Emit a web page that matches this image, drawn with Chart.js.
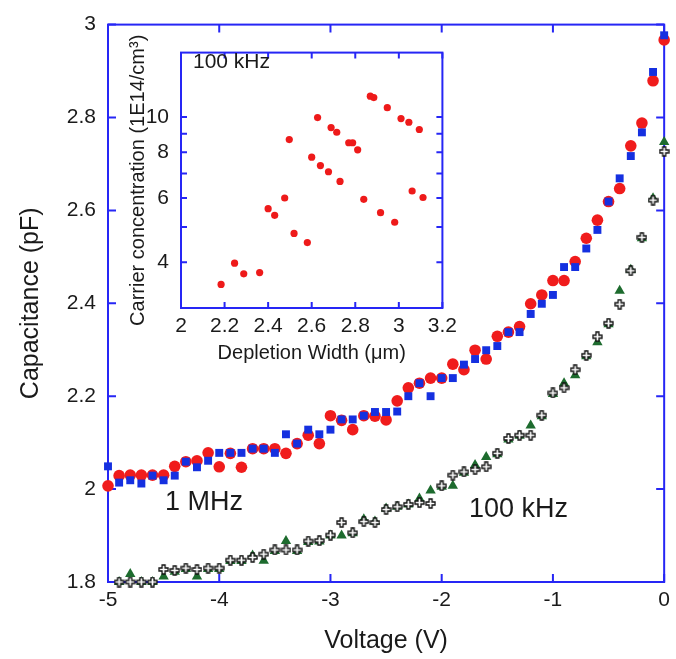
<!DOCTYPE html>
<html lang="en">
<head>
  <meta charset="UTF-8">
  <title>Capacitance vs Voltage</title>
  <script src="https://cdn.jsdelivr.net/npm/chart.js"></script>
  <style>
    body { margin: 0; background: #fff; }
    .wrap { position: relative; width: 676px; height: 659px; }
    #main { position: absolute; left: 0; top: 0; }
    #inset { position: absolute; left: 118px; top: 28px; }
  </style>
</head>
<body>
  <div class="wrap">
    <canvas id="main" width="676" height="659"></canvas>
    <canvas id="inset" width="345" height="340"></canvas>
  </div>

  <script>
    // bias voltage (V)
    const voltage = [-5.0, -4.9, -4.8, -4.7, -4.6, -4.5, -4.4, -4.3, -4.2, -4.1,
      -4.0, -3.9, -3.8, -3.7, -3.6, -3.5, -3.4, -3.3, -3.2, -3.1,
      -3.0, -2.9, -2.8, -2.7, -2.6, -2.5, -2.4, -2.3, -2.2, -2.1,
      -2.0, -1.9, -1.8, -1.7, -1.6, -1.5, -1.4, -1.3, -1.2, -1.1,
      -1.0, -0.9, -0.8, -0.7, -0.6, -0.5, -0.4, -0.3, -0.2, -0.1, 0];

    // 1 MHz, two runs (pF)
    const red1MHz = [2.007, 2.029, 2.030, 2.030, 2.030, 2.030, 2.049, 2.059, 2.061, 2.078,
      2.048, 2.077, 2.047, 2.087, 2.087, 2.087, 2.077, 2.098, 2.116, 2.098,
      2.158, 2.148, 2.128, 2.158, 2.157, 2.149, 2.190, 2.218, 2.228, 2.239,
      2.239, 2.269, 2.257, 2.299, 2.280, 2.329, 2.338, 2.350, 2.399, 2.418,
      2.449, 2.449, 2.490, 2.540, 2.579, 2.619, 2.647, 2.739, 2.788, 2.879, 2.967];
    const blue1MHz = [2.049, 2.014, 2.019, 2.012, 2.029, 2.019, 2.029, 2.059, 2.047, 2.061,
      2.078, 2.078, 2.078, 2.087, 2.087, 2.078, 2.118, 2.098, 2.128, 2.118,
      2.128, 2.150, 2.150, 2.158, 2.166, 2.166, 2.167, 2.200, 2.228, 2.200,
      2.239, 2.239, 2.268, 2.280, 2.299, 2.308, 2.338, 2.338, 2.377, 2.399,
      2.418, 2.478, 2.478, 2.518, 2.558, 2.619, 2.669, 2.717, 2.768, 2.898, 2.977];

    // 100 kHz, two runs (pF), from -4.9 V
    const voltage100k = voltage.slice(1);
    const cross100k = [1.800, 1.800, 1.800, 1.800, 1.827, 1.825, 1.830, 1.827, 1.830, 1.830,
      1.847, 1.847, 1.853, 1.860, 1.869, 1.869, 1.869, 1.888, 1.889, 1.901,
      1.928, 1.906, 1.930, 1.928, 1.956, 1.962, 1.967, 1.971, 1.969, 2.007,
      2.030, 2.037, 2.042, 2.048, 2.077, 2.109, 2.116, 2.116, 2.159, 2.207,
      2.218, 2.257, 2.288, 2.328, 2.357, 2.398, 2.470, 2.542, 2.622, 2.727];
    const tri100k = [1.800, 1.817, 1.800, 1.800, 1.812, 1.822, 1.828, 1.812, 1.828, 1.828,
      1.845, 1.845, 1.857, 1.846, 1.867, 1.888, 1.867, 1.886, 1.887, 1.900,
      1.900, 1.905, 1.935, 1.930, 1.958, 1.962, 1.967, 1.980, 1.997, 2.005,
      2.007, 2.035, 2.052, 2.069, 2.075, 2.107, 2.115, 2.137, 2.157, 2.205,
      2.228, 2.245, 2.286, 2.316, 2.355, 2.427, 2.472, 2.540, 2.626, 2.747];

    const xTicks = [-5, -4, -3, -2, -1, 0];
    const yTicks = [1.8, 2, 2.2, 2.4, 2.6, 2.8, 3];

    // inset: carrier profile at 100 kHz
    const depletionWidth = [2.184, 2.246, 2.288, 2.361, 2.400, 2.430, 2.476, 2.497, 2.519, 2.580,
      2.600, 2.627, 2.640, 2.677, 2.689, 2.715, 2.730, 2.770, 2.788, 2.811,
      2.839, 2.869, 2.885, 2.916, 2.947, 2.981, 3.010, 3.046, 3.061, 3.094, 3.111];
    const carrierConc = [3.48, 3.98, 3.72, 3.75, 5.61, 5.38, 6.00, 8.67, 4.80, 4.53,
      7.76, 9.96, 7.36, 7.08, 9.35, 9.08, 6.66, 8.50, 8.50, 8.13,
      5.95, 11.4, 11.3, 5.47, 10.6, 5.15, 9.90, 9.67, 6.27, 9.24, 6.02];
    const insetXTicks = [2, 2.2, 2.4, 2.6, 2.8, 3, 3.2];
    const insetYTicks = [3, 4, 5, 6, 7, 8, 9, 10];
    const insetYLabels = [4, 6, 8, 10];

    const FONT = "'Liberation Sans', Arial, sans-serif";
    const AXIS = '#2626f5';
    const TEXT = '#1a1a1a';

    const pairs = (xs, ys) => xs.map((x, i) => ({ x: x, y: ys[i] }));

    // open plus marker for the second 100 kHz run
    const plusMarker = (() => {
      const c = document.createElement('canvas');
      c.width = 11; c.height = 11;
      const g = c.getContext('2d');
      const a = 1.5, b = 4.5;
      g.translate(5.5, 5.5);
      g.beginPath();
      g.moveTo(-a, -b); g.lineTo(a, -b); g.lineTo(a, -a); g.lineTo(b, -a);
      g.lineTo(b, a); g.lineTo(a, a); g.lineTo(a, b); g.lineTo(-a, b);
      g.lineTo(-a, a); g.lineTo(-b, a); g.lineTo(-b, -a); g.lineTo(-a, -a);
      g.closePath();
      g.fillStyle = '#fff';
      g.fill();
      g.strokeStyle = '#111';
      g.lineWidth = 1.3;
      g.stroke();
      return c;
    })();

    // box frame with inward ticks on all four sides
    const frame = (len) => ({
      id: 'frame',
      beforeDatasetsDraw(chart) {
        const { ctx, chartArea: a, scales: { x, y } } = chart;
        ctx.save();
        ctx.strokeStyle = AXIS;
        ctx.lineWidth = 2;
        ctx.strokeRect(a.left, a.top, a.right - a.left, a.bottom - a.top);
        ctx.beginPath();
        x.ticks.forEach(t => {
          const px = x.getPixelForValue(t.value);
          ctx.moveTo(px, a.bottom); ctx.lineTo(px, a.bottom - len);
          ctx.moveTo(px, a.top); ctx.lineTo(px, a.top + len);
        });
        y.ticks.forEach(t => {
          const py = y.getPixelForValue(t.value);
          ctx.moveTo(a.left, py); ctx.lineTo(a.left + len, py);
          ctx.moveTo(a.right, py); ctx.lineTo(a.right - len, py);
        });
        ctx.stroke();
        ctx.restore();
      }
    });

    // free text labels inside the plot
    const notes = (items, size) => ({
      id: 'notes',
      afterDatasetsDraw(chart) {
        const ctx = chart.ctx;
        ctx.save();
        ctx.font = size + 'px ' + FONT;
        ctx.fillStyle = TEXT;
        ctx.textBaseline = 'middle';
        items.forEach(([txt, x, y]) => ctx.fillText(txt, x, y));
        ctx.restore();
      }
    });

    new Chart(document.getElementById('main'), {
      type: 'scatter',
      data: {
        datasets: [
          { data: pairs(voltage, blue1MHz), pointStyle: 'rect', pointRadius: 5.6,
            backgroundColor: '#1530e0', borderWidth: 0, clip: false },
          { data: pairs(voltage, red1MHz), pointStyle: 'circle', pointRadius: 5.8,
            backgroundColor: '#f01c1c', borderWidth: 0, clip: false },
          { data: pairs(voltage100k, cross100k), pointStyle: plusMarker, clip: false },
          { data: pairs(voltage100k, tri100k), pointStyle: 'triangle', pointRadius: 6,
            backgroundColor: '#1d6b2e', borderWidth: 0, clip: false }
        ]
      },
      options: {
        responsive: false,
        animation: false,
        devicePixelRatio: 1,
        layout: { padding: { left: 0, right: 7, top: 23, bottom: 0 } },
        plugins: { legend: { display: false }, tooltip: { enabled: false } },
        scales: {
          x: {
            type: 'linear', min: -5, max: 0,
            afterBuildTicks: s => { s.ticks = xTicks.map(v => ({ value: v })); },
            afterFit: s => { s.height = 77; },
            grid: { display: false, drawTicks: false },
            border: { display: false },
            ticks: { callback: v => String(v), font: { size: 21, family: FONT }, color: TEXT, padding: 6, maxRotation: 0 },
            title: { display: true, text: 'Voltage (V)', font: { size: 25, family: FONT }, color: TEXT, padding: { top: 0, bottom: 3 } }
          },
          y: {
            type: 'linear', min: 1.8, max: 3,
            afterBuildTicks: s => { s.ticks = yTicks.map(v => ({ value: v })); },
            afterFit: s => { s.width = 108; },
            grid: { display: false, drawTicks: false },
            border: { display: false },
            ticks: { callback: v => String(v), font: { size: 21, family: FONT }, color: TEXT, padding: 12 },
            title: { display: true, text: 'Capacitance (pF)', font: { size: 25, family: FONT }, color: TEXT, padding: { top: 16, bottom: 0 } }
          }
        }
      },
      plugins: [frame(8), notes([['1 MHz', 165, 503], ['100 kHz', 469, 510]], 27)]
    });

    new Chart(document.getElementById('inset'), {
      type: 'scatter',
      data: {
        datasets: [
          { data: pairs(depletionWidth, carrierConc), pointStyle: 'circle', pointRadius: 3.6,
            backgroundColor: '#ee1a1a', borderWidth: 0, clip: false }
        ]
      },
      options: {
        responsive: false,
        animation: false,
        devicePixelRatio: 1,
        layout: { padding: { left: 0, right: 11, top: 10, bottom: 0 } },
        plugins: { legend: { display: false }, tooltip: { enabled: false } },
        scales: {
          x: {
            type: 'linear', min: 2, max: 3.2,
            afterBuildTicks: s => { s.ticks = insetXTicks.map(v => ({ value: v })); },
            afterFit: s => { s.height = 60; },
            grid: { display: false, drawTicks: false },
            border: { display: false },
            ticks: { callback: v => String(v), font: { size: 21, family: FONT }, color: TEXT, padding: 6, maxRotation: 0 },
            title: { display: true, text: 'Depletion Width (\u03bcm)', font: { size: 20, family: FONT }, color: TEXT, padding: { top: 0, bottom: 3 } }
          },
          y: {
            type: 'logarithmic', min: 3, max: 15,
            afterBuildTicks: s => { s.ticks = insetYTicks.map(v => ({ value: v })); },
            afterFit: s => { s.width = 63; },
            grid: { display: false, drawTicks: false },
            border: { display: false },
            ticks: { callback: v => insetYLabels.includes(v) ? String(v) : '', font: { size: 21, family: FONT }, color: TEXT, padding: 12 },
            title: { display: true, text: 'Carrier concentration (1E14/cm\u00b3)', font: { size: 20, family: FONT }, color: TEXT, padding: { top: 8, bottom: 0 } }
          }
        }
      },
      plugins: [frame(6), notes([['100 kHz', 75, 34]], 21)]
    });
  </script>
</body>
</html>
